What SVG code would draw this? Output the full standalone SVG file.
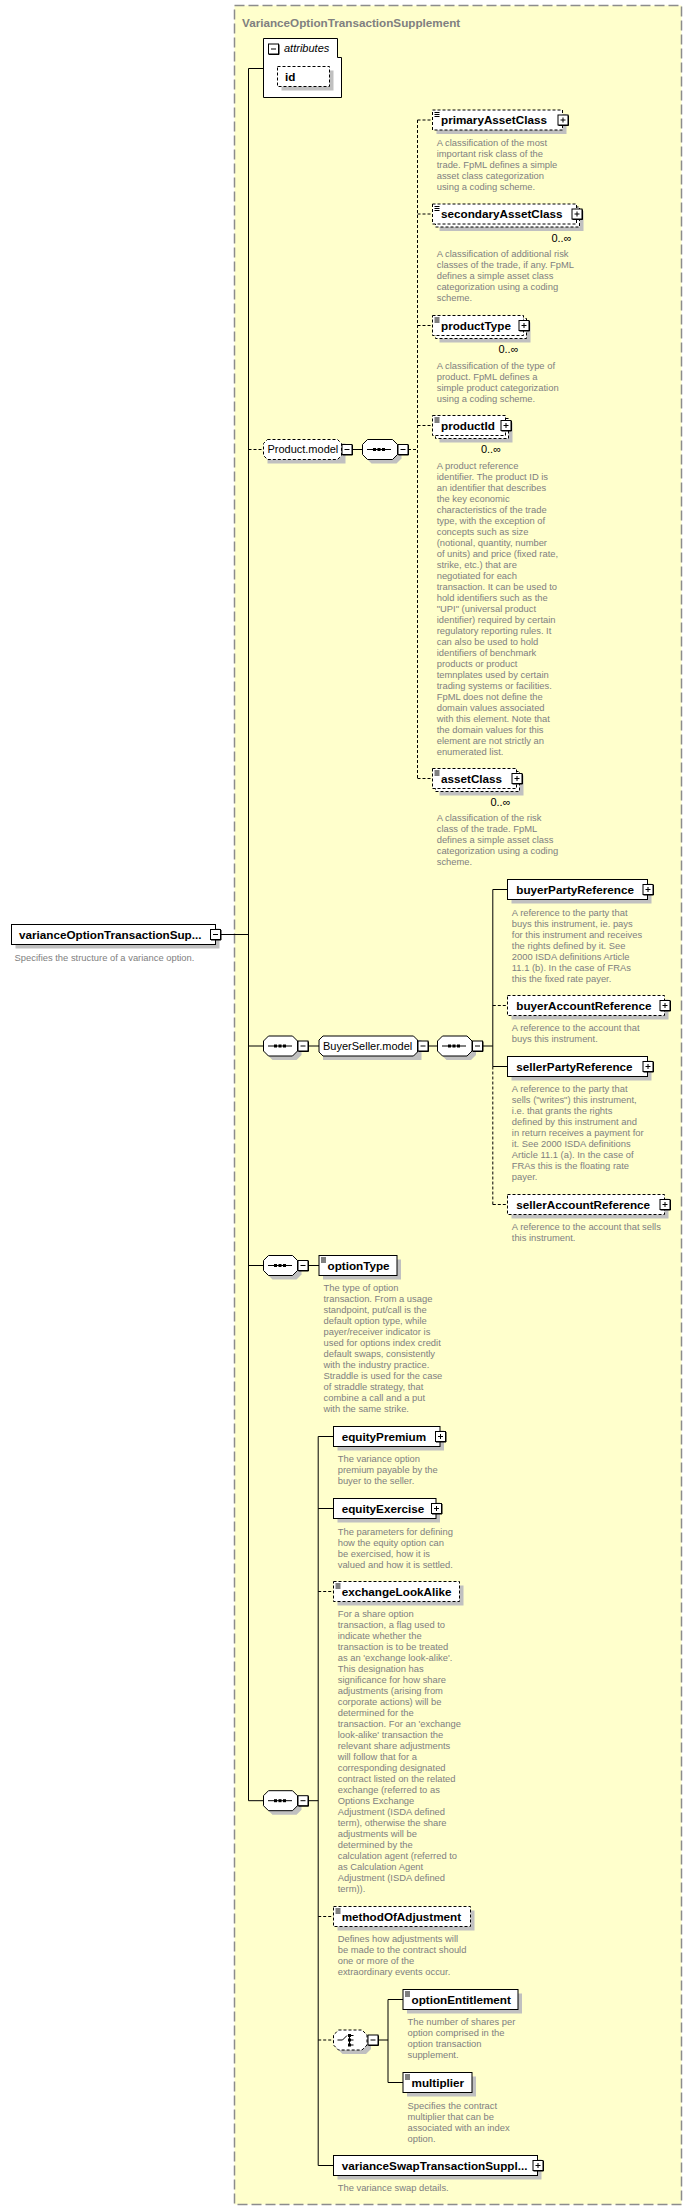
<svg xmlns="http://www.w3.org/2000/svg" xmlns:xlink="http://www.w3.org/1999/xlink" width="683" height="2210" viewBox="0 0 683 2210">
<style>
.bx{fill:#fff;stroke:#000;stroke-width:1}
.op{stroke-dasharray:3,2}
.sh{fill:#c0c0c0}
.lbl{font-family:"Liberation Sans",Arial,sans-serif;font-weight:bold;font-size:11.7px;fill:#000}
.reg{font-family:"Liberation Sans",Arial,sans-serif;font-size:11px;fill:#000}
.dsc{font-family:"Liberation Sans",Arial,sans-serif;font-size:9.4px;fill:#808080}
.ln{stroke:#000;stroke-width:1;fill:none}
.dl{stroke-dasharray:3,2}
</style>
<defs>
<g id="plus"><rect x="0.5" y="0.5" width="10" height="10" fill="#fff" stroke="#000"/><path d="M11,1 V11 H1" stroke="#000" fill="none"/><path d="M3,5.5 H8 M5.5,3 V8" stroke="#000"/></g>
<g id="minus"><rect x="0.5" y="0.5" width="10" height="10" fill="#fff" stroke="#000"/><path d="M11,1 V11 H1" stroke="#000" fill="none"/><path d="M3,5.5 H8" stroke="#000"/></g>
<path id="eq" d="M0,0.5 H5 M0,2.5 H5 M0,4.5 H5" stroke="#000" fill="none"/>
<g id="seqsym"><path d="M-12,0 H12" stroke="#000"/><rect x="-6" y="-1.5" width="3" height="3" fill="#000"/><rect x="-1.5" y="-1.5" width="3" height="3" fill="#000"/><rect x="3" y="-1.5" width="3" height="3" fill="#000"/></g>
</defs>

<g id="container">
<rect x="234.5" y="5.5" width="447" height="2199" fill="#ffffcc" stroke="#8c8c8c" stroke-width="1.5" stroke-dasharray="10,4"/>
<text x="242" y="26.5" class="lbl" fill="#808080" style="fill:#808080">VarianceOptionTransactionSupplement</text>
</g>

<g id="connectors">
<path class="ln" d="M220,934.5 H248.5 M248.5,68.5 V1800.7 M248.5,68.5 H263.5"/>
<path class="ln dl" d="M248.5,449.5 H263.5"/>
<path class="ln" d="M352,449.5 H362.5"/>
<path class="ln dl" d="M408,449.5 H417.5 M417.5,120 V778.5 M417.5,120 H432.5 M417.5,214 H432.5 M417.5,325.5 H432.5 M417.5,425.5 H432.5 M417.5,778.5 H432.5"/>
<path class="ln" d="M248.5,1046 H263.5 M308,1046 H319 M428,1046 H437.5 M482.5,1046 H492.8 M492.8,889.5 V1066.5 M492.8,889.5 H507.5 M492.8,1066.5 H507.5"/>
<path class="ln dl" d="M492.8,1066.5 V1204.5 M492.8,1005.5 H507.5 M492.8,1204.5 H507.5"/>
<path class="ln" d="M248.5,1265.5 H263.5 M308,1265.5 H319"/>
<path class="ln" d="M248.5,1800.7 H263.5 M308,1800.7 H318.2 M318.2,1436.5 V2165.5 M318.2,1436.5 H333.5 M318.2,1508.5 H333.5 M318.2,2165.5 H333.5"/>
<path class="ln dl" d="M318.2,1591.5 H333.5 M318.2,1916.5 H333.5 M318.2,2040 H333.5"/>
<path class="ln" d="M378,2040 H388 M388,1999.5 V2082.5 M388,1999.5 H403 M388,2082.5 H403"/>
</g>

<g id="root">
<rect x="15.5" y="928.5" width="204" height="20" class="sh"/>
<rect x="11.5" y="924.5" width="204" height="20" class="bx"/>
<text x="19" y="938.7" class="lbl">varianceOptionTransactionSup...</text>
<use xlink:href="#minus" x="210" y="929"/>
<text class="dsc" x="14.6" y="960.8">Specifies the structure of a variance option.</text>
</g>

<g id="attributes">
<path d="M263.5,38.5 H337.5 V57.5 H341.5 V97.5 H263.5 Z" fill="#fff" stroke="#000"/>
<use xlink:href="#minus" x="268" y="43.5"/>
<text x="284" y="52" class="reg" font-style="italic">attributes</text>
<rect x="281.5" y="70.5" width="52" height="20" class="sh"/>
<rect x="277.5" y="66.5" width="52" height="20" class="bx op"/>
<text x="285" y="80.5" class="lbl">id</text>
</g>

<g id="productModel">
<path d="M267.5,443.5 H345.5 V463.5 H267.5 Z" class="sh" transform="translate(0,0)"/>
<path d="M267.5,439.5 H337.5 L341.5,443.5 V455.5 L337.5,459.5 H267.5 L263.5,455.5 V443.5 Z" class="bx op"/>
<text x="267.4" y="453.3" class="reg">Product.model</text>
<use xlink:href="#minus" x="341.5" y="444"/>
</g>

<g id="seqProduct">
<path d="M371.5,443.5 H396.5 L401.5,448.5 V458.5 L396.5,463.5 H371.5 L366.5,458.5 V448.5 Z" class="sh"/>
<path d="M367.5,439.5 H392.5 L397.5,444.5 V454.5 L392.5,459.5 H367.5 L362.5,454.5 V444.5 Z" class="bx"/>
<use xlink:href="#seqsym" x="379" y="449.5"/>
<use xlink:href="#minus" x="397.5" y="444"/>
</g>

<g id="primaryAssetClass">
<rect x="436.5" y="114" width="130" height="20" class="sh"/>
<rect x="432.5" y="110" width="130" height="20" class="bx op"/>
<use xlink:href="#eq" x="434.5" y="112"/>
<text x="441" y="124.2" class="lbl">primaryAssetClass</text>
<use xlink:href="#plus" x="557.5" y="114.5"/>
<text class="dsc" x="436.7" y="146.2"><tspan x="436.7">A classification of the most</tspan><tspan x="436.7" dy="11">important risk class of the</tspan><tspan x="436.7" dy="11">trade. FpML defines a simple</tspan><tspan x="436.7" dy="11">asset class categorization</tspan><tspan x="436.7" dy="11">using a coding scheme.</tspan></text>
</g>

<g id="secondaryAssetClass">
<rect x="439.5" y="211" width="144" height="20" class="sh"/>
<rect x="435.5" y="207" width="144" height="20" class="bx op"/>
<rect x="432.5" y="204" width="144" height="20" class="bx op"/>
<use xlink:href="#eq" x="434.5" y="206"/>
<text x="441" y="218.2" class="lbl">secondaryAssetClass</text>
<use xlink:href="#plus" x="571.5" y="208.5"/>
<text x="571.5" y="242.3" class="reg" text-anchor="end">0..∞</text>
<text class="dsc" x="436.7" y="257.2"><tspan x="436.7">A classification of additional risk</tspan><tspan x="436.7" dy="11">classes of the trade, if any. FpML</tspan><tspan x="436.7" dy="11">defines a simple asset class</tspan><tspan x="436.7" dy="11">categorization using a coding</tspan><tspan x="436.7" dy="11">scheme.</tspan></text>
</g>

<g id="productType">
<rect x="439.5" y="322.5" width="91" height="20" class="sh"/>
<rect x="435.5" y="318.5" width="91" height="20" class="bx op"/>
<rect x="432.5" y="315.5" width="91" height="20" class="bx op"/>
<use xlink:href="#eq" x="434.5" y="317.5"/>
<text x="441" y="329.7" class="lbl">productType</text>
<use xlink:href="#plus" x="518.5" y="320"/>
<text x="518.5" y="353" class="reg" text-anchor="end">0..∞</text>
<text class="dsc" x="436.7" y="368.5"><tspan x="436.7">A classification of the type of</tspan><tspan x="436.7" dy="11">product. FpML defines a</tspan><tspan x="436.7" dy="11">simple product categorization</tspan><tspan x="436.7" dy="11">using a coding scheme.</tspan></text>
</g>

<g id="productId">
<rect x="439.5" y="422.5" width="73" height="20" class="sh"/>
<rect x="435.5" y="418.5" width="73" height="20" class="bx op"/>
<rect x="432.5" y="415.5" width="73" height="20" class="bx op"/>
<use xlink:href="#eq" x="434.5" y="417.5"/>
<text x="441" y="429.7" class="lbl">productId</text>
<use xlink:href="#plus" x="500.5" y="420"/>
<text x="501" y="453.3" class="reg" text-anchor="end">0..∞</text>
<text class="dsc" x="436.7" y="468.5"><tspan x="436.7">A product reference</tspan><tspan x="436.7" dy="11">identifier. The product ID is</tspan><tspan x="436.7" dy="11">an identifier that describes</tspan><tspan x="436.7" dy="11">the key economic</tspan><tspan x="436.7" dy="11">characteristics of the trade</tspan><tspan x="436.7" dy="11">type, with the exception of</tspan><tspan x="436.7" dy="11">concepts such as size</tspan><tspan x="436.7" dy="11">(notional, quantity, number</tspan><tspan x="436.7" dy="11">of units) and price (fixed rate,</tspan><tspan x="436.7" dy="11">strike, etc.) that are</tspan><tspan x="436.7" dy="11">negotiated for each</tspan><tspan x="436.7" dy="11">transaction. It can be used to</tspan><tspan x="436.7" dy="11">hold identifiers such as the</tspan><tspan x="436.7" dy="11">"UPI" (universal product</tspan><tspan x="436.7" dy="11">identifier) required by certain</tspan><tspan x="436.7" dy="11">regulatory reporting rules. It</tspan><tspan x="436.7" dy="11">can also be used to hold</tspan><tspan x="436.7" dy="11">identifiers of benchmark</tspan><tspan x="436.7" dy="11">products or product</tspan><tspan x="436.7" dy="11">temnplates used by certain</tspan><tspan x="436.7" dy="11">trading systems or facilities.</tspan><tspan x="436.7" dy="11">FpML does not define the</tspan><tspan x="436.7" dy="11">domain values associated</tspan><tspan x="436.7" dy="11">with this element. Note that</tspan><tspan x="436.7" dy="11">the domain values for this</tspan><tspan x="436.7" dy="11">element are not strictly an</tspan><tspan x="436.7" dy="11">enumerated list.</tspan></text>
</g>

<g id="assetClass">
<rect x="439.5" y="775.5" width="84" height="20" class="sh"/>
<rect x="435.5" y="771.5" width="84" height="20" class="bx op"/>
<rect x="432.5" y="768.5" width="84" height="20" class="bx op"/>
<use xlink:href="#eq" x="434.5" y="770.5"/>
<text x="441" y="782.7" class="lbl">assetClass</text>
<use xlink:href="#plus" x="511.5" y="773"/>
<text x="510.5" y="806" class="reg" text-anchor="end">0..∞</text>
<text class="dsc" x="436.7" y="821.2"><tspan x="436.7">A classification of the risk</tspan><tspan x="436.7" dy="11">class of the trade. FpML</tspan><tspan x="436.7" dy="11">defines a simple asset class</tspan><tspan x="436.7" dy="11">categorization using a coding</tspan><tspan x="436.7" dy="11">scheme.</tspan></text>
</g>

<g id="seqBuyerSeller">
<path d="M272.5,1040 H296.5 L301.5,1045 V1055 L296.5,1060 H272.5 L267.5,1055 V1045 Z" class="sh"/>
<path d="M268.5,1036 H292.5 L297.5,1041 V1051 L292.5,1056 H268.5 L263.5,1051 V1041 Z" class="bx"/>
<use xlink:href="#seqsym" x="280" y="1046"/>
<use xlink:href="#minus" x="297.5" y="1040.5"/>
</g>

<g id="buyerSellerModel">
<path d="M323,1040 H421.5 V1060 H323 Z" class="sh"/>
<path d="M323,1036 H413.5 L417.5,1040 V1052 L413.5,1056 H323 L319,1052 V1040 Z" class="bx"/>
<text x="323" y="1049.8" class="reg">BuyerSeller.model</text>
<use xlink:href="#minus" x="417.5" y="1040.5"/>
</g>

<g id="seqBuyerSeller2">
<path d="M446.5,1040 H471 L476,1045 V1055 L471,1060 H446.5 L441.5,1055 V1045 Z" class="sh"/>
<path d="M442.5,1036 H467 L472,1041 V1051 L467,1056 H442.5 L437.5,1051 V1041 Z" class="bx"/>
<use xlink:href="#seqsym" x="454" y="1046"/>
<use xlink:href="#minus" x="472" y="1040.5"/>
</g>

<g id="buyerPartyReference">
<rect x="511.5" y="883.5" width="140" height="20" class="sh"/>
<rect x="507.5" y="879.5" width="140" height="20" class="bx"/>
<text x="516.3" y="893.7" class="lbl">buyerPartyReference</text>
<use xlink:href="#plus" x="642.5" y="884"/>
<text class="dsc" x="511.8" y="915.5"><tspan x="511.8">A reference to the party that</tspan><tspan x="511.8" dy="11">buys this instrument, ie. pays</tspan><tspan x="511.8" dy="11">for this instrument and receives</tspan><tspan x="511.8" dy="11">the rights defined by it. See</tspan><tspan x="511.8" dy="11">2000 ISDA definitions Article</tspan><tspan x="511.8" dy="11">11.1 (b). In the case of FRAs</tspan><tspan x="511.8" dy="11">this the fixed rate payer.</tspan></text>
</g>

<g id="buyerAccountReference">
<rect x="511.5" y="999.5" width="157" height="20" class="sh"/>
<rect x="507.5" y="995.5" width="157" height="20" class="bx op"/>
<text x="516.3" y="1009.7" class="lbl">buyerAccountReference</text>
<use xlink:href="#plus" x="659.5" y="1000"/>
<text class="dsc" x="511.8" y="1031.2"><tspan x="511.8">A reference to the account that</tspan><tspan x="511.8" dy="11">buys this instrument.</tspan></text>
</g>

<g id="sellerPartyReference">
<rect x="511.5" y="1060.5" width="140" height="20" class="sh"/>
<rect x="507.5" y="1056.5" width="140" height="20" class="bx"/>
<text x="516.3" y="1070.7" class="lbl">sellerPartyReference</text>
<use xlink:href="#plus" x="642.5" y="1061"/>
<text class="dsc" x="511.8" y="1092.2"><tspan x="511.8">A reference to the party that</tspan><tspan x="511.8" dy="11">sells ("writes") this instrument,</tspan><tspan x="511.8" dy="11">i.e. that grants the rights</tspan><tspan x="511.8" dy="11">defined by this instrument and</tspan><tspan x="511.8" dy="11">in return receives a payment for</tspan><tspan x="511.8" dy="11">it. See 2000 ISDA definitions</tspan><tspan x="511.8" dy="11">Article 11.1 (a). In the case of</tspan><tspan x="511.8" dy="11">FRAs this is the floating rate</tspan><tspan x="511.8" dy="11">payer.</tspan></text>
</g>

<g id="sellerAccountReference">
<rect x="511.5" y="1198.5" width="157" height="20" class="sh"/>
<rect x="507.5" y="1194.5" width="157" height="20" class="bx op"/>
<text x="516.3" y="1208.7" class="lbl">sellerAccountReference</text>
<use xlink:href="#plus" x="659.5" y="1199"/>
<text class="dsc" x="511.8" y="1230.2"><tspan x="511.8">A reference to the account that sells</tspan><tspan x="511.8" dy="11">this instrument.</tspan></text>
</g>

<g id="seqOptionType">
<path d="M272.5,1259.5 H296.5 L301.5,1264.5 V1274.5 L296.5,1279.5 H272.5 L267.5,1274.5 V1264.5 Z" class="sh"/>
<path d="M268.5,1255.5 H292.5 L297.5,1260.5 V1270.5 L292.5,1275.5 H268.5 L263.5,1270.5 V1260.5 Z" class="bx"/>
<use xlink:href="#seqsym" x="280" y="1265.5"/>
<use xlink:href="#minus" x="297.5" y="1260"/>
</g>

<g id="optionType">
<rect x="323" y="1259.5" width="78" height="20" class="sh"/>
<rect x="319" y="1255.5" width="78" height="20" class="bx"/>
<use xlink:href="#eq" x="321" y="1257.5"/>
<text x="327.5" y="1269.7" class="lbl">optionType</text>
<text class="dsc" x="323.5" y="1291.2"><tspan x="323.5">The type of option</tspan><tspan x="323.5" dy="11">transaction. From a usage</tspan><tspan x="323.5" dy="11">standpoint, put/call is the</tspan><tspan x="323.5" dy="11">default option type, while</tspan><tspan x="323.5" dy="11">payer/receiver indicator is</tspan><tspan x="323.5" dy="11">used for options index credit</tspan><tspan x="323.5" dy="11">default swaps, consistently</tspan><tspan x="323.5" dy="11">with the industry practice.</tspan><tspan x="323.5" dy="11">Straddle is used for the case</tspan><tspan x="323.5" dy="11">of straddle strategy, that</tspan><tspan x="323.5" dy="11">combine a call and a put</tspan><tspan x="323.5" dy="11">with the same strike.</tspan></text>
</g>

<g id="seqMain">
<path d="M272.5,1794.7 H296.5 L301.5,1799.7 V1809.7 L296.5,1814.7 H272.5 L267.5,1809.7 V1799.7 Z" class="sh"/>
<path d="M268.5,1790.7 H292.5 L297.5,1795.7 V1805.7 L292.5,1810.7 H268.5 L263.5,1805.7 V1795.7 Z" class="bx"/>
<use xlink:href="#seqsym" x="280" y="1800.7"/>
<use xlink:href="#minus" x="297.5" y="1795.2"/>
</g>

<g id="equityPremium">
<rect x="337.5" y="1430.5" width="106.5" height="20" class="sh"/>
<rect x="333.5" y="1426.5" width="106.5" height="20" class="bx"/>
<text x="341.7" y="1440.7" class="lbl">equityPremium</text>
<use xlink:href="#plus" x="435" y="1431"/>
<text class="dsc" x="337.7" y="1462.2"><tspan x="337.7">The variance option</tspan><tspan x="337.7" dy="11">premium payable by the</tspan><tspan x="337.7" dy="11">buyer to the seller.</tspan></text>
</g>

<g id="equityExercise">
<rect x="337.5" y="1502.5" width="102.5" height="20" class="sh"/>
<rect x="333.5" y="1498.5" width="102.5" height="20" class="bx"/>
<text x="341.7" y="1512.7" class="lbl">equityExercise</text>
<use xlink:href="#plus" x="431" y="1503"/>
<text class="dsc" x="337.7" y="1534.5"><tspan x="337.7">The parameters for defining</tspan><tspan x="337.7" dy="11">how the equity option can</tspan><tspan x="337.7" dy="11">be exercised, how it is</tspan><tspan x="337.7" dy="11">valued and how it is settled.</tspan></text>
</g>

<g id="exchangeLookAlike">
<rect x="337.5" y="1585.5" width="126" height="20" class="sh"/>
<rect x="333.5" y="1581.5" width="126" height="20" class="bx op"/>
<use xlink:href="#eq" x="335.5" y="1583.5"/>
<text x="341.7" y="1595.7" class="lbl">exchangeLookAlike</text>
<text class="dsc" x="337.7" y="1617.2"><tspan x="337.7">For a share option</tspan><tspan x="337.7" dy="11">transaction, a flag used to</tspan><tspan x="337.7" dy="11">indicate whether the</tspan><tspan x="337.7" dy="11">transaction is to be treated</tspan><tspan x="337.7" dy="11">as an 'exchange look-alike'.</tspan><tspan x="337.7" dy="11">This designation has</tspan><tspan x="337.7" dy="11">significance for how share</tspan><tspan x="337.7" dy="11">adjustments (arising from</tspan><tspan x="337.7" dy="11">corporate actions) will be</tspan><tspan x="337.7" dy="11">determined for the</tspan><tspan x="337.7" dy="11">transaction. For an 'exchange</tspan><tspan x="337.7" dy="11">look-alike' transaction the</tspan><tspan x="337.7" dy="11">relevant share adjustments</tspan><tspan x="337.7" dy="11">will follow that for a</tspan><tspan x="337.7" dy="11">corresponding designated</tspan><tspan x="337.7" dy="11">contract listed on the related</tspan><tspan x="337.7" dy="11">exchange (referred to as</tspan><tspan x="337.7" dy="11">Options Exchange</tspan><tspan x="337.7" dy="11">Adjustment (ISDA defined</tspan><tspan x="337.7" dy="11">term), otherwise the share</tspan><tspan x="337.7" dy="11">adjustments will be</tspan><tspan x="337.7" dy="11">determined by the</tspan><tspan x="337.7" dy="11">calculation agent (referred to</tspan><tspan x="337.7" dy="11">as Calculation Agent</tspan><tspan x="337.7" dy="11">Adjustment (ISDA defined</tspan><tspan x="337.7" dy="11">term)).</tspan></text>
</g>

<g id="methodOfAdjustment">
<rect x="337.5" y="1910.5" width="137" height="20" class="sh"/>
<rect x="333.5" y="1906.5" width="137" height="20" class="bx op"/>
<use xlink:href="#eq" x="335.5" y="1908.5"/>
<text x="341.7" y="1920.7" class="lbl">methodOfAdjustment</text>
<text class="dsc" x="337.7" y="1942.2"><tspan x="337.7">Defines how adjustments will</tspan><tspan x="337.7" dy="11">be made to the contract should</tspan><tspan x="337.7" dy="11">one or more of the</tspan><tspan x="337.7" dy="11">extraordinary events occur.</tspan></text>
</g>

<g id="choice">
<path d="M342.5,2034 H366 L371,2039 V2049 L366,2054 H342.5 L337.5,2049 V2039 Z" class="sh"/>
<path d="M338.5,2030 H362 L367,2035 V2045 L362,2050 H338.5 L333.5,2045 V2035 Z" class="bx op"/>
<path d="M337.5,2040 H342.5 L347,2035.5 M349.5,2035.5 V2045 M349.5,2035.5 H353.5 M349.5,2040 H353.5 M349.5,2045 H353.5" stroke="#000" fill="none"/>
<rect x="348" y="2034" width="3" height="3" fill="#000"/><rect x="348" y="2038.5" width="3" height="3" fill="#000"/><rect x="348" y="2043.5" width="3" height="3" fill="#000"/>
<use xlink:href="#minus" x="367.5" y="2034.5"/>
</g>

<g id="optionEntitlement">
<rect x="407" y="1993.5" width="115" height="20" class="sh"/>
<rect x="403" y="1989.5" width="115" height="20" class="bx"/>
<use xlink:href="#eq" x="405" y="1991.5"/>
<text x="411.5" y="2003.7" class="lbl">optionEntitlement</text>
<text class="dsc" x="407.5" y="2025.2"><tspan x="407.5">The number of shares per</tspan><tspan x="407.5" dy="11">option comprised in the</tspan><tspan x="407.5" dy="11">option transaction</tspan><tspan x="407.5" dy="11">supplement.</tspan></text>
</g>

<g id="multiplier">
<rect x="407" y="2076.5" width="69" height="20" class="sh"/>
<rect x="403" y="2072.5" width="69" height="20" class="bx"/>
<use xlink:href="#eq" x="405" y="2074.5"/>
<text x="411.5" y="2086.7" class="lbl">multiplier</text>
<text class="dsc" x="407.5" y="2108.5"><tspan x="407.5">Specifies the contract</tspan><tspan x="407.5" dy="11">multiplier that can be</tspan><tspan x="407.5" dy="11">associated with an index</tspan><tspan x="407.5" dy="11">option.</tspan></text>
</g>

<g id="varianceSwapTransactionSupplement">
<rect x="337.5" y="2159.5" width="204" height="20" class="sh"/>
<rect x="333.5" y="2155.5" width="204" height="20" class="bx"/>
<text x="341.7" y="2169.7" class="lbl">varianceSwapTransactionSuppl...</text>
<use xlink:href="#plus" x="532.5" y="2160"/>
<text class="dsc" x="337.7" y="2191.2">The variance swap details.</text>
</g>
</svg>
